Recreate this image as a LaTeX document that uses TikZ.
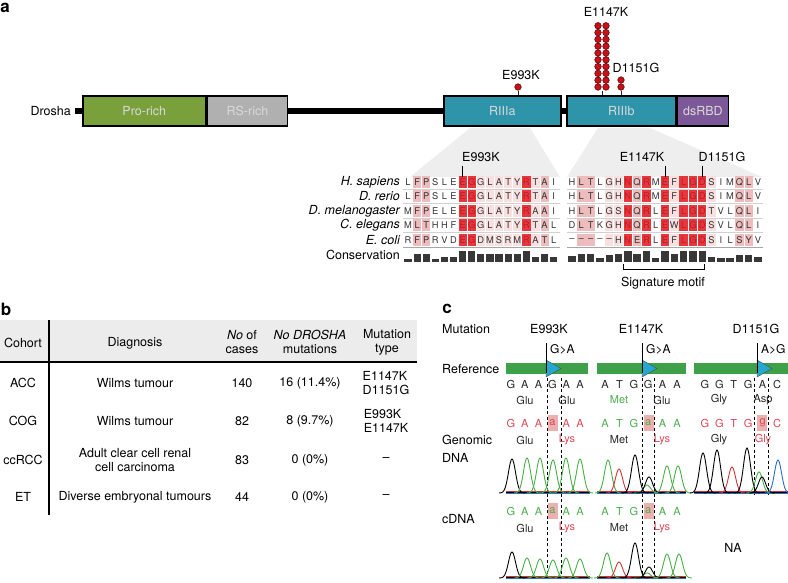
\documentclass[tikz,border=0pt]{standalone}
\usepackage{fontspec}
\setmainfont{TeX Gyre Heros}
\usepackage{xcolor}
\usepackage{tikz}
\usetikzlibrary{positioning,backgrounds}

\definecolor{progreen}{RGB}{122,160,60}
\definecolor{rsgrey}{RGB}{176,176,176}
\definecolor{rteal}{RGB}{45,148,170}
\definecolor{dspurple}{RGB}{124,88,152}
\definecolor{lolli}{RGB}{200,16,22}
\definecolor{zoomgrey}{RGB}{238,238,238}
\definecolor{cl1}{RGB}{249,224,224}
\definecolor{cl2}{RGB}{238,188,188}
\definecolor{cl3}{RGB}{224,20,28}
\definecolor{hdrgrey}{RGB}{236,236,236}
\definecolor{refgreen}{RGB}{62,160,72}
\definecolor{mutcyan}{RGB}{38,168,206}
\definecolor{ntred}{RGB}{218,72,84}
\definecolor{ntgreen}{RGB}{76,172,76}
\definecolor{hlpink}{RGB}{236,176,176}
\definecolor{chgreen}{RGB}{70,175,70}
\definecolor{chred}{RGB}{210,50,50}
\definecolor{chblue}{RGB}{40,110,200}

\newcommand{\fsz}[1]{\fontsize{#1}{#1}\selectfont}
% one trace peak: centre, baseline, height, colour
\newcommand{\peak}[4]{%
  \draw[#4,line width=0.9pt] plot[domain=#1-13:#1+13,samples=35,smooth]
    (\x,{#2-(#3)*exp(-(((\x-(#1))/5)^2))});}
% one row of bases: start x, y, pitch, colour, list, name
\newcommand{\ntrow}[6]{%
  \foreach \c [count=\i from 0] in {#5}
    {\node[nt,text=#4] (#6-\i) at ({#1+#3*\i},#2) {\c};}}

\begin{document}
\begin{tikzpicture}[x=1pt,y=-1pt,
  lbl/.style={font=\fsz{12.5},inner sep=0pt},
  panel/.style={font=\fsz{17}\bfseries,inner sep=0pt},
  dom/.style={draw=black,line width=1.6pt,minimum height=30pt,inner sep=0pt,text=white!85!black,font=\fsz{12.5}},
  backbone/.style={line width=6pt},
  ball/.style={circle,fill=lolli,draw=lolli!40!black,line width=0.5pt,inner sep=0pt,minimum size=6.6pt},
  stem/.style={line width=0.8pt,black!85},
  aa/.style={font=\fsz{9.3},inner sep=0pt,text=black!80},
  spc/.style={font=\fsz{12.5}\itshape,inner sep=0pt,anchor=east},
  rowsep/.style={black!18,line width=0.6pt},
  consbar/.style={fill=black!78},
  mk/.style={line width=0.8pt},
  tcell/.style={font=\fontsize{12.5}{14}\selectfont,inner sep=0pt,align=center},
  nt/.style={font=\fsz{11},inner sep=0pt},
  cut/.style={line width=0.6pt,dash pattern=on 3pt off 2.5pt},
  tri/.style={fill=mutcyan,draw=black!70,line width=0.4pt},
]
\useasboundingbox (0,0) rectangle (788,583);

% a: Drosha domains
\node[panel] (pa) at (5,8) {a};
\node[lbl,anchor=east] (drosha) at (71,111) {Drosha};
\node[dom,fill=progreen,minimum width=123pt,anchor=west] (pro) at (82,111) {Pro-rich};
\node[dom,fill=rsgrey,minimum width=80pt,right=0pt of pro] (rs) {RS-rich};
\node[dom,fill=rteal,minimum width=117pt,anchor=west] (r3a) at (443,111) {RIIIa};
\node[dom,fill=rteal,minimum width=109pt,anchor=west] (r3b) at (566,111) {RIIIb};
\node[dom,fill=dspurple,minimum width=51pt,right=0pt of r3b] (ds) {dsRBD};
\begin{pgfonlayer}{background}
\draw[backbone] ([xshift=4pt]drosha.east) -- (r3a.west);
\draw[backbone] (r3a.east) -- (r3b.west);
\end{pgfonlayer}

% mutations on the protein
\node[ball] (p993) at (518,87) {};
\draw[stem] (p993.south) -- (p993.south |- r3a.north);
\node[lbl] (t993) at (521,75) {E993K};
\foreach \j in {0,...,9}{
  \node[ball] (ka\j) at (598,87-6.8*\j) {};
  \node[ball] (kb\j) at (606,87-6.8*\j) {};
}
\draw[stem] ([xshift=4pt]ka0.south) -- ([xshift=4pt]ka0.south |- r3b.north);
\node[lbl] (t1147) at (606,12) {E1147K};
\node[ball] (d0) at (621,87) {};
\node[ball] (d1) at (621,80) {};
\draw[stem] (d0.south) -- (d0.south |- r3b.north);
\node[lbl] (t1151) at (636,68) {D1151G};

% zoom wedges
\fill[zoomgrey] (470,128) -- (530,128) -- (560,177) -- (410,177) -- cycle;
\fill[zoomgrey] (598,128) -- (650,128) -- (762,177) -- (567,177) -- cycle;

% a: alignment, RIIIa part
\foreach \k [count=\i from 0] in {0,2,2,0,0,0,3,3,1,1,1,1,1,3,1,2,0}{
  \foreach \r in {0,...,4}{\ifnum\k>0 \ifnum\k<3 \fill[cl\k] (404+9.1*\i,176+14.5*\r) rectangle ++(8.2,12); \fi\fi}}
\foreach \s [count=\r from 0] in {{L,F,P,S,L,E,E,G,G,L,A,T,Y,R,T,A,I},
    {L,F,P,S,L,E,E,G,G,L,A,T,Y,R,T,A,I},
    {M,F,P,E,L,E,E,G,G,L,A,T,Y,R,A,A,I},
    {M,L,T,H,H,F,E,G,G,L,A,T,Y,R,T,A,L},
    {R,F,P,R,V,D,E,G,D,M,S,R,M,R,A,T,L}}{
  \foreach \c [count=\i from 0] in \s
    {\node[aa] (la\r-\i) at (408+9.1*\i,182+14.5*\r) {\c};}}
\foreach \k [count=\i from 0] in {0,2,2,0,0,0,3,3,1,1,1,1,1,3,1,2,0}{
  \ifnum\k=3 \foreach \r in {0,...,4}{\fill[cl3,fill opacity=0.85] (404+9.1*\i,176+14.5*\r) rectangle ++(8.2,12);}\fi}
\foreach \h [count=\i from 0] in {3,8,8,3,5,5,11,11,8,8,8,8,8,11,5,8,5}
  {\fill[consbar] (408+9.1*\i-3.6,262) rectangle ++(7.2,-\h);}

% a: alignment, RIIIb part
\foreach \k [count=\i from 0] in {0,2,2,0,1,1,3,2,3,0,3,1,3,3,3,1,0,0,2,2,0}{
  \foreach \r in {0,...,4}{\ifnum\k>0 \ifnum\k<3 \fill[cl\k] (567.8+9.3*\i,176+14.5*\r) rectangle ++(8.4,12); \fi\fi}}
\foreach \s [count=\r from 0] in {{H,L,T,L,G,H,N,Q,R,M,E,F,L,G,D,S,I,M,Q,L,V},
    {H,L,T,L,G,H,N,Q,R,M,E,F,L,G,D,S,I,M,Q,L,V},
    {H,L,T,L,G,S,N,Q,R,L,E,F,L,G,D,T,V,L,Q,L,I},
    {D,L,T,K,G,H,N,Q,R,L,E,W,L,G,D,S,V,L,Q,L,I},
    {\textendash,\textendash,\textendash,\textendash,\textendash,H,N,E,R,L,E,F,L,G,D,S,I,L,S,Y,V}}{
  \foreach \c [count=\i from 0] in \s
    {\node[aa] (lb\r-\i) at (572+9.3*\i,182+14.5*\r) {\c};}}
\foreach \k [count=\i from 0] in {0,2,2,0,1,1,3,2,3,0,3,1,3,3,3,1,0,0,2,2,0}{
  \ifnum\k=3 \foreach \r in {0,...,4}{\fill[cl3,fill opacity=0.85] (567.8+9.3*\i,176+14.5*\r) rectangle ++(8.4,12);}\fi}
\foreach \h [count=\i from 0] in {6,8,8,4,7,8,11,8,11,4,11,8,11,11,11,5,4,4,7,7,5}
  {\fill[consbar] (572+9.3*\i-3.7,262) rectangle ++(7.4,-\h);}

% row rules
\foreach \r in {0,...,3}{
  \draw[rowsep] (403,189.25+14.5*\r) -- (560,189.25+14.5*\r);
  \draw[rowsep] (567,189.25+14.5*\r) -- (763,189.25+14.5*\r);
}
\draw[black!35,line width=1.4pt] (403,247.5) -- (560,247.5);
\draw[black!35,line width=1.4pt] (567,247.5) -- (763,247.5);

\foreach \n [count=\r from 0] in {H. sapiens,D. rerio,D. melanogaster,C. elegans,E. coli}
  {\node[spc] (sp\r) at (400,182+14.5*\r) {\n};}
\node[lbl,anchor=east] (cons) at (400,255) {Conservation};

% mutated positions
\node[lbl] (a993) at (481,157) {E993K};
\draw[mk] (la0-6 |- a993.south) ++(0,4) -- ([yshift=1.5pt]la0-6.north);
\node[lbl] (a1147) at (642,157) {E1147K};
\draw[mk] (lb0-10 |- a1147.south) ++(0,4) -- ([yshift=1.5pt]lb0-10.north);
\node[lbl] (a1151) at (722,157) {D1151G};
\draw[mk] (lb0-14 |- a1151.south) ++(0,4) -- ([yshift=1.5pt]lb0-14.north);
\draw[mk] (623,264) |- (704,269) -- (704,264);
\node[lbl] (sig) at (663,283) {Signature motif};

% b: cohort table
\node[panel] (pb) at (6,309) {b};
\fill[hdrgrey] (0,320) rectangle (417,361);
\draw[line width=1.2pt] (0,362) -- (417,362);
\draw[line width=1.4pt] (49,320) -- (49,515);
\node[tcell] (h1) at (23,343) {Cohort};
\node[tcell] (h2) at (135,343) {Diagnosis};
\node[tcell] (h3) at (242,342) {\textit{No} of\\cases};
\node[tcell] (h4) at (310,342) {\textit{No DROSHA}\\mutations};
\node[tcell] (h5) at (387,342) {Mutation\\type};
\foreach \y/\co/\dg/\nc/\nm/\mt [count=\r] in {
    383/ACC/Wilms tumour/140/16 (11.4\%)/{E1147K\\D1151G},
    421/COG/Wilms tumour/82/8 (9.7\%)/{E993K\\E1147K},
    460/ccRCC/{Adult clear cell renal\\cell carcinoma}/83/0 (0\%)/--,
    497/ET/Diverse embryonal tumours/44/0 (0\%)/--}{
  \node[tcell] (co\r) at (23,\y) {\co};
  \node[tcell] (dg\r) at (135,\y) {\dg};
  \node[tcell] (nc\r) at (242,\y) {\nc};
  \node[tcell] (nm\r) at (310,\y) {\nm};
  \node[tcell,align=left] (mt\r) at (386,\y) {\mt};
}

% c: Sanger traces
\node[panel] (pc) at (447,309) {c};
\node[lbl,anchor=west] (mut) at (442,329) {Mutation};
\node[lbl,anchor=west] (ref) at (442,369) {Reference};
\node[lbl,anchor=west] (gen) at (442,440) {Genomic};
\node[lbl,anchor=west] (gdna) at (442,458) {DNA};
\node[lbl,anchor=west] (cdna) at (442,519) {cDNA};
\node[lbl] (m1) at (549,329) {E993K};
\node[lbl] (m2) at (641,329) {E1147K};
\node[lbl] (m3) at (756,329) {D1151G};

\foreach \bl/\br/\m/\ch in {506/588/546/G>A,597/686/642/G>A,694/790/757/A>G}{
  \fill[refgreen] (\bl,363) rectangle (\br,374);
  \fill[tri] (\m,360) -- (\m+15,368.5) -- (\m,377) -- cycle;
  \draw[line width=0.8pt] (\m,343) -- (\m,373);
  \node[font=\fsz{12},inner sep=0pt,anchor=west] (ch\m) at (\m+4,349) {\ch};
}
\foreach \u/\v/\e in {547/561/578,642/654/578,754/768/495}{
  \draw[cut] (\u,378) -- (\u,\e);
  \draw[cut] (\v,378) -- (\v,\e);
}

% highlighted bases
\fill[hlpink] (547.5,415) rectangle (557.5,431);
\fill[hlpink] (643.5,415) rectangle (653.5,431);
\fill[hlpink] (757,415) rectangle (767,431);
\fill[hlpink] (547.5,503) rectangle (557.5,519);
\fill[hlpink] (643.5,503) rectangle (653.5,519);

% bases and codons
\ntrow{511}{384}{13.8}{black!85}{G,A,A,G,A,A}{r1}
\ntrow{605}{384}{14.4}{black!85}{A,T,G,G,A,A}{r2}
\ntrow{705}{384}{14.4}{black!85}{G,G,T,G,A,C}{r3}
\ntrow{511}{423}{13.8}{ntred}{G,A,A,a,A,A}{g1}
\ntrow{605}{423}{14.4}{ntgreen}{A,T,G,a,A,A}{g2}
\ntrow{705}{423}{14.4}{ntred}{G,G,T,G,g,C}{g3}
\ntrow{511}{511}{13.8}{ntgreen}{G,A,A,a,A,A}{c1}
\ntrow{605}{511}{14.4}{ntgreen}{A,T,G,a,A,A}{c2}
\foreach \x/\y/\col/\t [count=\n] in {525/400/black!85/Glu,567/400/black!85/Glu,619/400/ntgreen/Met,662/400/black!85/Glu,719/400/black!85/Gly,763/400/black!85/Asp,
    525/440/black!85/Glu,567/440/ntred/Lys,619/440/black!85/Met,662/440/ntred/Lys,719/440/black!85/Gly,763/440/ntred/Gly,
    525/528/black!85/Glu,567/528/ntred/Lys,619/528/black!85/Met,662/528/ntred/Lys}
  {\node[nt,text=\col] (cod\n) at (\x,\y) {\t};}

% trace baselines
\foreach \a/\b/\y in {506/590/493,597/686/493,694/788/493,506/590/578,597/686/578}{
  \draw[chred,line width=0.5pt] (\a,\y-1.5) -- (\b,\y-1.5);
  \draw[chblue,line width=0.5pt] (\a,\y) -- (\b,\y);
  \draw[black,line width=0.4pt] (\a,\y-0.8) -- (\b,\y-0.8);
}
% genomic traces
\foreach \p/\h/\col in {512/34/black,527/35/chgreen,540/35/chgreen,553/33/chgreen,566/35/chgreen,580/34/chgreen}
  {\peak{\p}{493}{\h}{\col}}
\foreach \p/\h/\col in {608/33/chgreen,619/24/chred,635/38/black,647/8/chgreen,649/16/black,667/27/chgreen,678/27/chgreen}
  {\peak{\p}{493}{\h}{\col}}
\foreach \p/\h/\col in {703/40/black,717/43/black,732/26/chred,747/45/black,759/21/chgreen,762/16/black,778/33/chblue}
  {\peak{\p}{493}{\h}{\col}}
% cDNA traces
\foreach \p/\h/\col in {512/26/black,527/20/chgreen,540/19/chgreen,553/18/chgreen,566/20/chgreen,580/19/chgreen}
  {\peak{\p}{578}{\h}{\col}}
\foreach \p/\h/\col in {607/25/chgreen,619/16/chred,635/35/black,647/5/chgreen,649/11/black,667/24/chgreen,679/24/chgreen}
  {\peak{\p}{578}{\h}{\col}}
\node[lbl] (na) at (733,548) {NA};
\end{tikzpicture}
\end{document}
